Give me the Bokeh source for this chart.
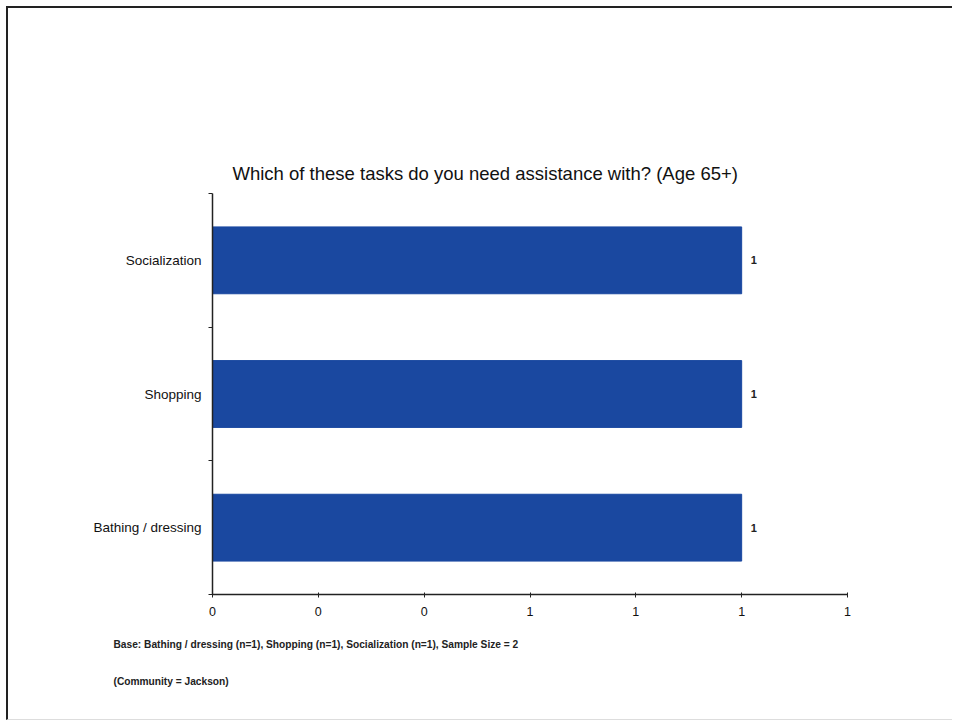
from bokeh.plotting import figure
from bokeh.models import (ColumnDataSource, FixedTicker, Range1d, Title,
                          PrintfTickFormatter)
from bokeh.core.properties import value
from bokeh.embed import file_html
from bokeh.resources import INLINE

# ---- data ----
categories = ["Bathing / dressing", "Shopping", "Socialization"]
counts = [1, 1, 1]
value_labels = ["1", "1", "1"]
x_ticks = [0, 0.2, 0.4, 0.6, 0.8, 1.0, 1.2]
title_text = "Which of these tasks do you need assistance with?  (Age 65+)"
base_note = "Base: Bathing / dressing (n=1), Shopping (n=1), Socialization (n=1), Sample Size = 2"
community_note = "(Community = Jackson)"

FONT = "Liberation Sans"
BAR = "#1a48a0"

ypos = [i + 0.5 for i in range(len(categories))]
src = ColumnDataSource(dict(y=ypos, v=counts, lab=value_labels, cat=categories))

p = figure(width=946, height=714, output_backend="svg", toolbar_location=None,
           x_range=Range1d(0, 1.2), y_range=Range1d(0, len(categories)),
           min_border_left=204, min_border_right=107,
           min_border_top=185, min_border_bottom=128)
p.margin = (6, 0, 0, 6)
p.styles = {"border-top": "2px solid #222", "border-left": "2px solid #222",
            "border-bottom": "1px solid #ddd"}
p.outline_line_color = None
p.grid.visible = False

p.hbar(y="y", right="v", left=0, height=0.5, source=src,
       fill_color=BAR, line_color=BAR)
p.text(x="v", y="y", text="lab", source=src, x_offset=9,
       text_font=value(FONT), text_font_size="11px", text_font_style="bold",
       text_color="#222", text_baseline="middle", text_align="left")

# title
p.title.text = title_text
p.title.align = "left"
p.title.text_font = FONT
p.title.text_font_size = "18.5px"
p.title.text_font_style = "normal"
p.title.text_color = "#111"
p.title.offset = 20
p.title.standoff = 20

# x axis
xa = p.xaxis[0]
xa.ticker = FixedTicker(ticks=x_ticks)
xa.formatter = PrintfTickFormatter(format="%.0f")
xa.axis_line_color = "#222"
xa.axis_line_width = 1.5
xa.major_tick_in = 2
xa.major_tick_out = 3
xa.major_tick_line_color = "#222"
xa.minor_tick_line_color = None
xa.major_label_text_font = FONT
xa.major_label_text_font_size = "12.5px"
xa.major_label_text_color = "#111"
xa.major_label_standoff = 9

# y axis: labels at category centres, tick marks at boundaries
ya = p.yaxis[0]
ya.ticker = FixedTicker(ticks=ypos, minor_ticks=list(range(len(categories) + 1)))
ya.major_label_overrides = {y: c for y, c in zip(ypos, categories)}
ya.axis_line_color = "#222"
ya.axis_line_width = 1.5
ya.major_tick_line_color = None
ya.major_tick_in = 0
ya.major_tick_out = 0
ya.minor_tick_line_color = "#222"
ya.minor_tick_in = 0
ya.minor_tick_out = 4
ya.major_label_text_font = FONT
ya.major_label_text_font_size = "13.5px"
ya.major_label_text_color = "#111"
ya.major_label_standoff = 7

# footnotes
for txt, st in [(base_note, 36), (community_note, 12)]:
    t = Title(text=txt, align="left", offset=-99, text_font=FONT,
              text_font_size="10.2px", text_font_style="bold", text_color="#222",
              standoff=st)
    p.add_layout(t, "below")

open("out.html", "w").write(file_html(p, INLINE))
